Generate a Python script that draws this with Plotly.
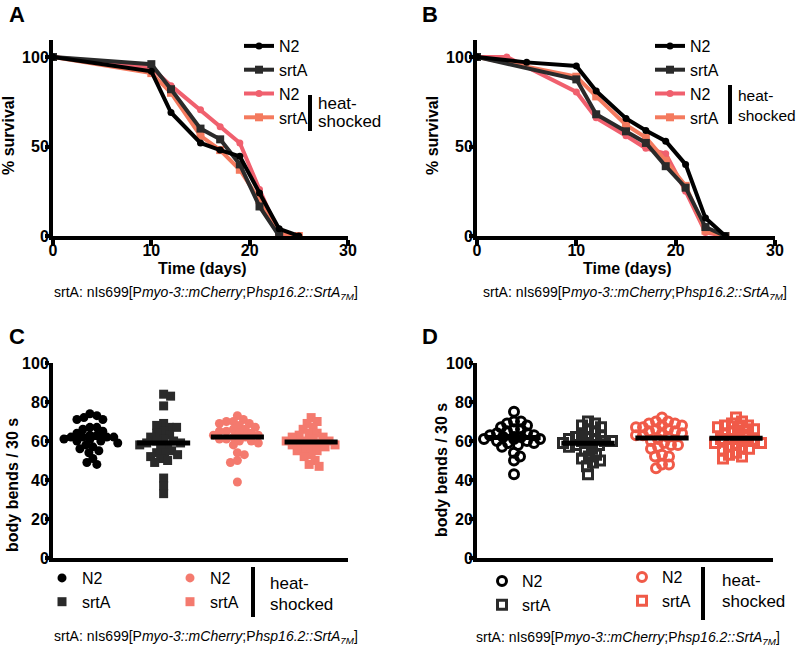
import numpy as np
import plotly.graph_objects as go

FONT = "Liberation Sans, Arial, Helvetica, sans-serif"
BLACK = "#000000"
DARK = "#2a2a2a"
PINK = "#F0606E"
SALMON = "#F47A5E"
C_PINK = "#F47A6E"
D_RED = "#F05A48"

# ---------------- Panel A: survival ----------------
A_N2_days = [0, 10, 12, 15, 17, 19, 21, 23, 25]
A_N2_surv = [100, 92, 69, 52, 48, 44.5, 24, 4, 0]
A_srtA_days = [0, 10, 12, 15, 17, 19, 21, 23]
A_srtA_surv = [100, 96, 82, 60, 54, 40, 16.5, 0]
A_N2hs_days = [0, 10, 12, 15, 17, 19, 21, 23, 25]
A_N2hs_surv = [100, 94, 84, 70.5, 61, 52, 26, 1, 0]
A_srtAhs_days = [0, 10, 12, 15, 17, 19, 21, 23, 25]
A_srtAhs_surv = [100, 91, 80, 56, 48, 37, 20, 2, 0]

# ---------------- Panel B: survival ----------------
B_N2_days = [0, 5, 10, 12, 15, 17, 19, 21, 23, 25]
B_N2_surv = [100, 97, 95, 81, 65.7, 59, 53, 40, 10, 0]
B_srtA_days = [0, 10, 12, 15, 17, 19, 21, 23, 25]
B_srtA_surv = [100, 87.5, 68, 58.5, 52, 39, 27, 5, 0]
B_N2hs_days = [0, 3, 10, 12, 15, 17, 19, 21, 23, 25]
B_N2hs_surv = [100, 100, 80.5, 66, 56, 49, 46, 25, 2, 0]
B_srtAhs_days = [0, 10, 12, 15, 17, 19, 21, 23, 25]
B_srtAhs_surv = [100, 89, 78, 62, 55, 42, 28, 3, 0]

# ---------------- Panel C: body bends ----------------
C_N2 = [74, 73, 72, 71, 71, 67, 67, 66, 65, 64, 63, 63, 62, 62, 62, 62, 61, 61, 61,
        60, 60, 59, 58, 57, 56, 55, 54, 51, 49, 48]
C_srtA = [84, 83, 78, 69, 68, 67, 67, 65, 64, 63, 62, 61, 60, 60, 59, 59, 58, 58, 57,
          55, 54, 54, 53, 52, 51, 50, 49, 41, 37, 33]
C_N2hs = [73, 71, 70, 70, 69, 69, 68, 67, 66, 66, 65, 65, 64, 64, 63, 63, 62, 62, 61,
          61, 60, 60, 59, 58, 54, 53, 50, 49, 39]
C_srtAhs = [72, 70, 69, 67, 66, 64, 64, 63, 62, 62, 61, 60, 60, 60, 59, 59, 58, 58, 57,
            57, 56, 55, 55, 53, 52, 50, 48, 47]

# ---------------- Panel D: body bends ----------------
D_N2 = [75, 70, 70, 69, 68, 67, 66, 66, 65, 64, 64, 63, 63, 62, 62, 62, 61, 61, 61,
        60, 60, 59, 59, 58, 57, 54, 52, 50, 43]
D_srtA = [70, 69, 68, 67, 66, 65, 64, 63, 62, 62, 61, 61, 60, 60, 60, 59, 59, 58, 58,
          57, 56, 55, 53, 52, 51, 50, 49, 47, 43]
D_N2hs = [72, 70, 70, 69, 69, 68, 68, 67, 67, 66, 66, 65, 65, 64, 64, 63, 63, 62, 61,
          60, 59, 58, 58, 57, 56, 53, 52, 52, 48, 48, 46]
D_srtAhs = [72, 70, 69, 68, 68, 67, 67, 66, 65, 65, 64, 63, 62, 61, 61, 60, 60, 59, 59,
            58, 57, 56, 56, 55, 54, 53, 52, 51]

group_names = ["N2", "srtA", "N2", "srtA"]
surv_ticks_x = [0, 10, 20, 30]
surv_ticks_y = [0, 50, 100]
bends_ticks_y = [0, 20, 40, 60, 80, 100]
subtitle = "srtA: nIs699[P<i>myo-3::mCherry</i>;P<i>hsp16.2::SrtA</i><sub><i>7M</i></sub>]"

W, H = 800, 647


def beeswarm(vals, d, xs=74.0, ys=1.95, maxw=30):
    """Column-scatter offsets (in category units) so markers do not overlap."""
    vals = list(vals)
    order = sorted(range(len(vals)), key=lambda i: -vals[i])
    placed = []
    offs = [0.0] * len(vals)
    side = 1
    for i in order:
        y = vals[i] * ys
        best = None
        for k in range(0, maxw + 1):
            cands = [0] if k == 0 else [side * k, -side * k]
            for dx in cands:
                if all((dx - px) ** 2 + (y - py) ** 2 >= d * d for px, py in placed):
                    best = dx
                    break
            if best is not None:
                break
        if best is None:
            best = 0
        if best != 0:
            side = -np.sign(best)
        placed.append((best, y))
        offs[i] = best / xs
    return offs


fig = go.Figure()


def line_trace(days, surv, name, color, symbol, size, xa, ya, legend, group, rank):
    fig.add_trace(go.Scatter(
        x=days, y=surv, name=name, mode="lines+markers",
        line=dict(color=color, width=4),
        marker=dict(color=color, symbol=symbol, size=size),
        xaxis=xa, yaxis=ya, legend=legend, legendgroup=group, legendrank=rank,
        cliponaxis=False,
    ))


# Panel A
line_trace(A_N2hs_days, A_N2hs_surv, "N2", PINK, "circle", 7, "x", "y", "legend", "hs", 3)
line_trace(A_srtAhs_days, A_srtAhs_surv, "srtA", SALMON, "square", 8, "x", "y", "legend", "hs", 4)
line_trace(A_srtA_days, A_srtA_surv, "srtA", DARK, "square", 8, "x", "y", "legend", "ctrl", 2)
line_trace(A_N2_days, A_N2_surv, "N2", BLACK, "circle", 7, "x", "y", "legend", "ctrl", 1)
# Panel B
line_trace(B_N2hs_days, B_N2hs_surv, "N2", PINK, "circle", 7, "x2", "y2", "legend2", "hs", 3)
line_trace(B_srtAhs_days, B_srtAhs_surv, "srtA", SALMON, "square", 8, "x2", "y2", "legend2", "hs", 4)
line_trace(B_srtA_days, B_srtA_surv, "srtA", DARK, "square", 8, "x2", "y2", "legend2", "ctrl", 2)
line_trace(B_N2_days, B_N2_surv, "N2", BLACK, "circle", 7, "x2", "y2", "legend2", "ctrl", 1)


def dot_panel(groups, colors, symbols, msize, mline, xa, ya, legends, d):
    for i, (vals, col, sym, lg) in enumerate(zip(groups, colors, symbols, legends)):
        offs = beeswarm(vals, d)
        fig.add_trace(go.Scatter(
            x=[i + o for o in offs], y=vals, mode="markers", name=group_names[i],
            marker=dict(color=col, symbol=sym, size=msize, line=dict(width=mline, color=col)),
            xaxis=xa, yaxis=ya, legend=lg, legendrank=i, cliponaxis=False,
        ))
    for i, vals in enumerate(groups):
        m = float(np.mean(vals))
        fig.add_trace(go.Scatter(
            x=[i - 0.36, i + 0.36], y=[m, m], mode="lines",
            line=dict(color=BLACK, width=5), showlegend=False,
            xaxis=xa, yaxis=ya, hoverinfo="skip",
        ))


dot_panel([C_N2, C_srtA, C_N2hs, C_srtAhs], [BLACK, DARK, C_PINK, C_PINK],
          ["circle", "square", "circle", "square"], 9, 0, "x3", "y3",
          ["legend3", "legend3", "legend4", "legend4"], 7.0)
dot_panel([D_N2, D_srtA, D_N2hs, D_srtAhs], [BLACK, DARK, D_RED, D_RED],
          ["circle-open", "square-open", "circle-open", "square-open"], 9, 3, "x4", "y4",
          ["legend5", "legend5", "legend6", "legend6"], 7.0)


def px_x(p):
    return p / W


def px_y(p):
    return 1 - p / H


tickfont = dict(family=FONT, size=16, color=BLACK, weight="bold")
base_axis = dict(showline=True, linewidth=4, linecolor=BLACK, showgrid=False,
                 zeroline=False, automargin=False, fixedrange=True, tickfont=tickfont,
                 tickwidth=4, tickcolor=BLACK)
x_axis_style = dict(base_axis, ticks="outside", ticklen=6, ticklabelstandoff=-9)
y_axis_style = dict(base_axis, ticks="outside", ticklen=4, ticklabelstandoff=-7)
x_cat_style = dict(base_axis, ticks="", showticklabels=False)

yA = [px_y(236), px_y(40)]
yC = [px_y(558), px_y(363)]

layout = dict(
    width=W, height=H, margin=dict(l=0, r=0, t=0, b=0),
    paper_bgcolor="white", plot_bgcolor="white",
    font=dict(family=FONT, color=BLACK),
    xaxis=dict(domain=[px_x(53), px_x(348)], range=[0, 30], tickvals=surv_ticks_x,
               anchor="y", **x_axis_style),
    yaxis=dict(domain=yA, range=[0, 109.5], tickvals=surv_ticks_y, anchor="x", **y_axis_style),
    xaxis2=dict(domain=[px_x(477), px_x(775)], range=[0, 30], tickvals=surv_ticks_x,
                anchor="y2", **x_axis_style),
    yaxis2=dict(domain=yA, range=[0, 109.5], tickvals=surv_ticks_y, anchor="x2", **y_axis_style),
    xaxis3=dict(domain=[px_x(53), px_x(348)], range=[-0.5, 3.5], anchor="y3", **x_cat_style),
    yaxis3=dict(domain=yC, range=[0, 100], tickvals=bends_ticks_y, anchor="x3", **y_axis_style),
    xaxis4=dict(domain=[px_x(477), px_x(773)], range=[-0.5, 3.5], anchor="y4", **x_cat_style),
    yaxis4=dict(domain=yC, range=[0, 100], tickvals=bends_ticks_y, anchor="x4", **y_axis_style),
    showlegend=True,
)

leg_common = dict(xanchor="left", yanchor="top", bgcolor="rgba(0,0,0,0)",
                  font=dict(family=FONT, size=16, color=BLACK), itemwidth=30,
                  tracegroupgap=3, traceorder="normal")
layout["legend"] = dict(x=px_x(239), y=px_y(29), **{**leg_common, "tracegroupgap": 7})
layout["legend2"] = dict(x=px_x(650), y=px_y(29), **{**leg_common, "tracegroupgap": 0})
layout["legend3"] = dict(x=px_x(42), y=px_y(561), **leg_common)
layout["legend4"] = dict(x=px_x(170), y=px_y(561), **leg_common)
layout["legend5"] = dict(x=px_x(482), y=px_y(564), **leg_common)
layout["legend6"] = dict(x=px_x(622), y=px_y(560), **leg_common)

fig.update_layout(**layout)

annos = []


def txt(x, y, text, size=16, bold=False, angle=0, xanchor="center"):
    annos.append(dict(x=px_x(x), y=px_y(y), xref="paper", yref="paper", text=text,
                      showarrow=False, xanchor=xanchor, yanchor="middle", textangle=angle,
                      font=dict(family=FONT, size=size, color=BLACK,
                                weight="bold" if bold else "normal")))


# panel letters
txt(17, 15, "A", 22, True)
txt(430, 15, "B", 22, True)
txt(17, 337, "C", 22, True)
txt(430, 337, "D", 22, True)
# axis titles
txt(202, 268, "Time (days)", 16, True)
txt(627, 268, "Time (days)", 16, True)
txt(8, 136, "% survival", 16, True, -90)
txt(432, 136, "% survival", 16, True, -90)
txt(12, 485, "body bends / 30 s", 16, True, -90)
txt(441, 470, "body bends / 30 s", 16, True, -90)
# subtitles
txt(206, 293, subtitle, 14)
txt(635, 293, subtitle, 14)
txt(206, 637, subtitle, 14)
txt(628, 638, subtitle, 14)
# heat-shocked labels
for (tx, ty1, ty2, fs) in [(316, 103, 121, 17), (736, 96, 115, 15.5),
                           (268, 583, 604, 17), (720, 580, 601, 17)]:
    txt(tx, ty1, "heat-", fs, xanchor="left")
    txt(tx, ty2, "shocked", fs, xanchor="left")

shapes = []
for (bx, y0, y1) in [(310, 95, 131), (730, 85, 124), (253, 567, 617), (703, 567, 620)]:
    shapes.append(dict(type="line", xref="paper", yref="paper", x0=px_x(bx), x1=px_x(bx),
                       y0=px_y(y0), y1=px_y(y1), line=dict(color=BLACK, width=4)))

fig.update_layout(annotations=annos, shapes=shapes)
fig.write_html("out.html", config={"displayModeBar": False},
               post_script="document.body.style.margin='0px';")
